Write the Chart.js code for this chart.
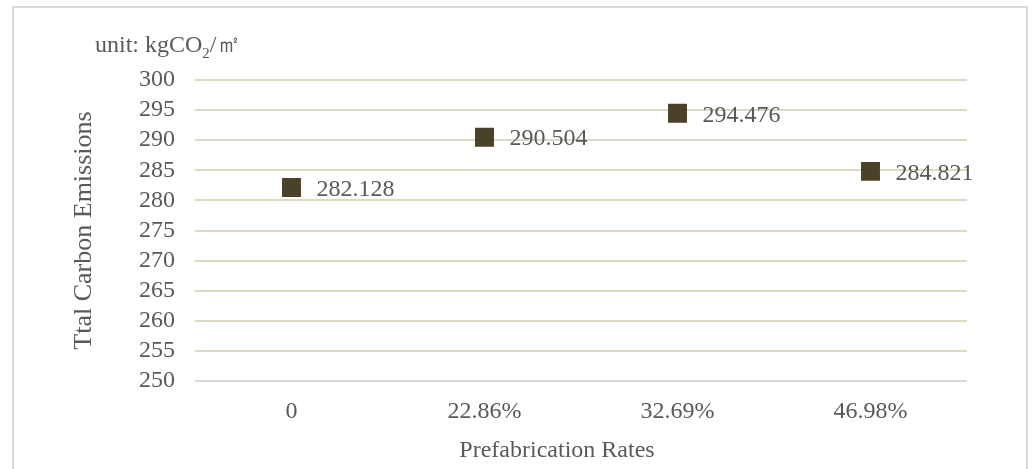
<!DOCTYPE html>
<html>
<head>
<meta charset="utf-8">
<script src="https://cdn.jsdelivr.net/npm/chart.js@4/dist/chart.umd.min.js"></script>
<style>
  body { margin: 0; background: #fff; overflow: hidden; }
  #frame { position: absolute; left: 12px; top: 6px; width: 1016px; height: 480px; border: 2px solid #d9d9d9; box-sizing: border-box; }
  #chart { position: absolute; left: 0; top: 0; }
</style>
</head>
<body>
<div id="frame"></div>
<canvas id="chart" width="1032" height="469"></canvas>
<script>
'use strict';
// Chart data
const rates = ['0', '22.86%', '32.69%', '46.98%'];
const emissions = [282.128, 290.504, 294.476, 284.821];
const yTicks = [250, 255, 260, 265, 270, 275, 280, 285, 290, 295, 300];

const serif = "'Liberation Serif', 'Times New Roman', serif";
const textColor = '#595959';
const fontSize = 24;

// Draws the value next to each marker, the unit text and the x axis title
const labelPlugin = {
  id: 'labels',
  afterDatasetsDraw(chart) {
    const ctx = chart.ctx;
    const meta = chart.getDatasetMeta(0);
    ctx.save();
    ctx.fillStyle = textColor;
    ctx.font = `${fontSize}px ${serif}`;
    ctx.textBaseline = 'middle';
    ctx.textAlign = 'left';
    meta.data.forEach((pt, i) => {
      ctx.fillText(emissions[i].toFixed(3), pt.x + 25, pt.y + 2);
    });
    // unit label
    let x = 95;
    const y = 46;
    ctx.fillText('unit: kgCO', x, y);
    x += ctx.measureText('unit: kgCO').width;
    ctx.font = `15px ${serif}`;
    ctx.fillText('2', x, y + 8);
    x += ctx.measureText('2').width;
    ctx.font = `${fontSize}px ${serif}`;
    ctx.fillText('/㎡', x, y);
    // x axis title (sits left of the plot centre in the original)
    ctx.textAlign = 'center';
    ctx.fillText('Prefabrication Rates', 557, 451);
    ctx.restore();
  }
};

const ctx = document.getElementById('chart').getContext('2d');
new Chart(ctx, {
  type: 'line',
  data: {
    labels: rates,
    datasets: [{
      data: emissions,
      showLine: false,
      pointStyle: 'rect',
      pointRadius: 13.4,
      pointHoverRadius: 13.4,
      backgroundColor: '#4a4228',
      borderColor: '#4a4228',
      borderWidth: 0
    }]
  },
  options: {
    responsive: false,
    animation: false,
    devicePixelRatio: 1,
    layout: { padding: { left: 0, right: 65, top: 80, bottom: 0 } },
    plugins: { legend: { display: false }, tooltip: { enabled: false } },
    scales: {
      x: {
        offset: true,
        grid: { display: false, drawTicks: false },
        border: { display: false },
        ticks: { color: textColor, font: { family: serif, size: fontSize }, padding: 16 },
        afterFit(scale) { scale.height = 88; }
      },
      y: {
        min: 250,
        max: 300,
        afterBuildTicks(scale) { scale.ticks = yTicks.map(v => ({ value: v })); },
        grid: {
          color: c => c.tick && c.tick.value === 250 ? '#d9d9d9' : '#ddd9c3',
          lineWidth: 2,
          drawTicks: false
        },
        border: { display: false },
        ticks: { color: textColor, font: { family: serif, size: fontSize }, padding: 20, autoSkip: false },
        title: { display: true, text: 'Ttal Carbon Emissions', color: textColor, font: { family: serif, size: 26 }, padding: { top: 69, bottom: 0 } },
        afterFit(scale) { scale.width = 195; }
      }
    }
  },
  plugins: [labelPlugin]
});
</script>
</body>
</html>
